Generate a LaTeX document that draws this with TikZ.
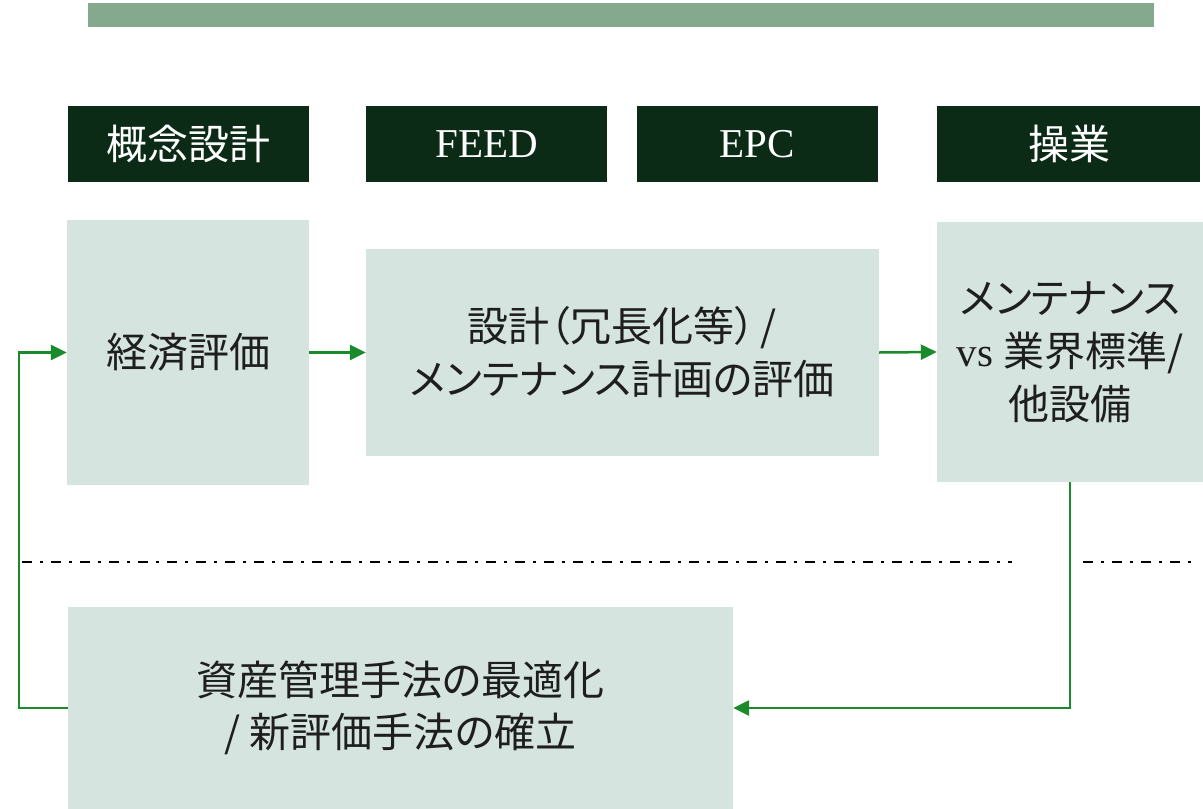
\documentclass[tikz,border=0pt]{standalone}
\usepackage{fontspec}
\setmainfont{Liberation Serif}
\newfontfamily\cjk[RawFeature=+palt]{Noto Sans CJK JP}
\usetikzlibrary{arrows.meta,calc}
\definecolor{barg}{HTML}{84A98C}
\definecolor{hdrc}{HTML}{0B2B16}
\definecolor{boxc}{HTML}{D5E4DF}
\definecolor{txtc}{HTML}{1E1E1E}
\definecolor{arrc}{HTML}{1B8A2B}
\tikzset{
  hdr/.style={fill=hdrc, text=white, inner sep=0pt, font=\fontsize{41}{46}\selectfont},
  pbox/.style={fill=boxc, text=txtc, inner sep=0pt, align=center, font=\fontsize{41}{53}\selectfont},
  flow/.style={draw=arrc, line width=2.5pt, -{Triangle[length=16pt,width=15pt]}},
  sep/.style={draw=black, line width=2pt, dash pattern=on 10pt off 8pt on 3pt off 8pt}
}
\begin{document}
\begin{tikzpicture}[x=1pt,y=-1pt]
\useasboundingbox (0,0) rectangle (1203,809);
% top bar
\fill[barg] (88,3) rectangle (1154,27);
% headers
\node[hdr, minimum width=241pt, minimum height=76pt] (h1) at (188.5,144) {\cjk 概念設計};
\node[hdr, minimum width=241pt, minimum height=76pt] (h2) at (486.5,144) {FEED};
\node[hdr, minimum width=241pt, minimum height=76pt] (h3) at (757.5,144) {EPC};
\node[hdr, minimum width=263pt, minimum height=76pt] (h4) at (1068.5,144) {\hspace*{2pt}\cjk 操業};
% content boxes
\node[pbox, minimum width=242pt, minimum height=265pt] (a) at (188,352.5) {\cjk 経済評価};
\node[pbox, minimum width=513pt, minimum height=207pt] (b) at (622.5,352.5) {{\cjk 設計（冗長化等）\hspace{6pt}/}\\{\cjk メンテナンス計画の評価}};
\node[pbox, minimum width=266pt, minimum height=260pt] (c) at (1070,352) {{\cjk メンテナンス}\\vs {\cjk 業界標準/}\\{\cjk 他設備}};
\node[pbox, minimum width=665pt, minimum height=202pt] (d) at (400.5,708) {\raisebox{-8pt}{\parbox{665pt}{\centering\fontsize{41}{52}\selectfont{\cjk 資産管理手法の最適化}\\{\cjk / 新評価手法の確立}}}};
% separators
\draw[sep] (22,562) -- (1012,562);
\draw[sep] (1083,562) -- (1195,562);
% connectors
\coordinate (L) at (19,0);
\draw[flow] (a.east) -- (b.west);
\draw[flow] (b.east) -- (c.west);
\draw[flow] (c.south) |- (d.east);
\draw[flow] (d.west) -- (d.west -| L) |- (a.west);
\end{tikzpicture}
\end{document}
